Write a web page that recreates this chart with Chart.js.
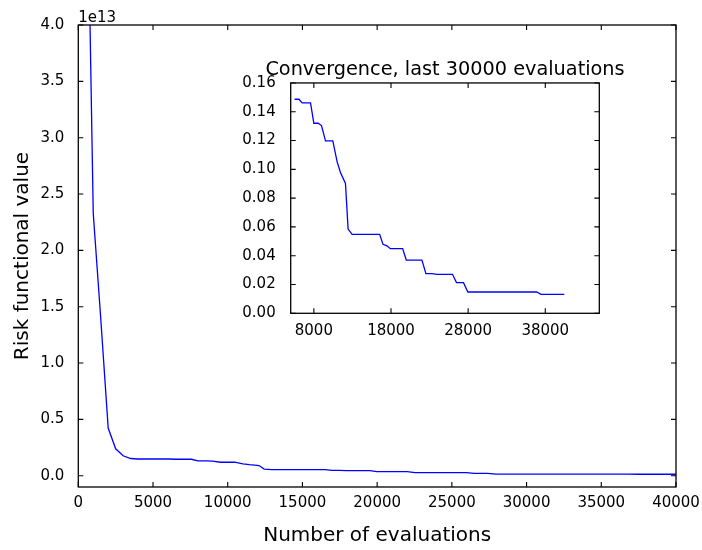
<!DOCTYPE html>
<html>
<head>
<meta charset="utf-8">
<script src="https://cdn.jsdelivr.net/npm/chart.js@4/dist/chart.umd.min.js"></script>
<style>
  html, body { margin: 0; padding: 0; background: #ffffff; }
  #wrap { position: relative; width: 702px; height: 550px; overflow: hidden; }
  #main { position: absolute; left: 0; top: 0; }
  #inset { position: absolute; left: 230px; top: 50px; }
</style>
</head>
<body>
<div id="wrap">
  <canvas id="main" width="702" height="550"></canvas>
  <canvas id="inset" width="430" height="300"></canvas>
</div>
<script>
// ---- data (risk values in units of 1e13) ----
const evaluations = [500, 1000, 1500, 2000, 2500, 3000, 3500, 4000,
  5500, 6060, 6490, 7570, 8000, 8560, 8990, 9510, 10460, 11020, 11450, 12100,
  12440, 12960, 16530, 16970, 17480, 17910, 19510, 19980, 22010, 22530, 23300,
  23950, 25970, 26490, 27400, 27960, 36880, 37440, 40460];
const riskValues = [6.2, 2.33, 1.40, 0.423, 0.239, 0.177, 0.153, 0.1487,
  0.1487, 0.1487, 0.1461, 0.1461, 0.1320, 0.1320, 0.1304, 0.1198, 0.1198, 0.1052, 0.0978, 0.0902,
  0.0585, 0.0548, 0.0548, 0.0479, 0.0469, 0.0449, 0.0449, 0.0370, 0.0370, 0.0275, 0.0275,
  0.0271, 0.0271, 0.0213, 0.0213, 0.0148, 0.0148, 0.0132, 0.0132];
const insetStart = 5500;

const mainXTicks = [0, 5000, 10000, 15000, 20000, 25000, 30000, 35000, 40000];
const mainYTicks = [0.0, 0.5, 1.0, 1.5, 2.0, 2.5, 3.0, 3.5, 4.0];
const insetXTicks = [8000, 18000, 28000, 38000];
const insetYTicks = [0.00, 0.02, 0.04, 0.06, 0.08, 0.10, 0.12, 0.14, 0.16];

const mainTitleX = 'Number of evaluations';
const mainTitleY = 'Risk functional value';
const insetTitle = 'Convergence, last 30000 evaluations';
const offsetText = '1e13';

// ---- helpers ----
const FONT = "'DejaVu Sans', 'Liberation Sans', sans-serif";
Chart.defaults.font.family = FONT;
Chart.defaults.color = '#000000';

const mainPoints = evaluations.map((x, i) => ({x: x, y: riskValues[i]}));
const insetPoints = mainPoints.filter(p => p.x >= insetStart);

function setTicks(arr) {
  return function(scale) { scale.ticks = arr.map(v => ({value: v})); };
}

const frameTicks = {
  id: 'frameTicks',
  beforeDraw(chart, args, opts) {
    if (opts.fill) {
      const a = chart.chartArea, ctx = chart.ctx;
      ctx.save();
      ctx.fillStyle = '#ffffff';
      ctx.fillRect(a.left, a.top, a.right - a.left, a.bottom - a.top);
      ctx.restore();
    }
  },
  afterDraw(chart, args, opts) {
    const {ctx, chartArea: {left, right, top, bottom}, scales} = chart;
    const L = opts.len || 5;
    ctx.save();
    ctx.strokeStyle = '#000000';
    ctx.lineWidth = 1.1;
    ctx.beginPath();
    scales.x.ticks.forEach(t => {
      const px = scales.x.getPixelForValue(t.value);
      ctx.moveTo(px, bottom); ctx.lineTo(px, bottom - L);
      ctx.moveTo(px, top); ctx.lineTo(px, top + L);
    });
    scales.y.ticks.forEach(t => {
      const py = scales.y.getPixelForValue(t.value);
      ctx.moveTo(left, py); ctx.lineTo(left + L, py);
      ctx.moveTo(right, py); ctx.lineTo(right - L, py);
    });
    ctx.stroke();
    ctx.lineWidth = 1.3;
    ctx.strokeRect(left, top, right - left, bottom - top);
    if (opts.offsetText) {
      ctx.fillStyle = '#000000';
      ctx.font = '15px ' + FONT;
      ctx.textAlign = 'left';
      ctx.textBaseline = 'alphabetic';
      ctx.fillText(opts.offsetText, left, top - 3);
    }
    ctx.restore();
  }
};

// ---- main chart ----
new Chart(document.getElementById('main'), {
  type: 'line',
  data: { datasets: [{
    data: mainPoints,
    borderColor: '#0000ff',
    borderWidth: 1.3,
    pointRadius: 0,
    tension: 0,
    fill: false
  }]},
  plugins: [frameTicks],
  options: {
    responsive: false,
    animation: false,
    devicePixelRatio: 1,
    layout: { padding: { top: 25, right: 26, left: 0, bottom: 0 } },
    plugins: {
      legend: { display: false },
      tooltip: { enabled: false },
      frameTicks: { len: 5, offsetText: offsetText }
    },
    scales: {
      x: {
        type: 'linear', min: 0, max: 40000,
        afterBuildTicks: setTicks(mainXTicks),
        afterFit(s) { s.height = 63; s.paddingLeft = 0; s.paddingRight = 0; },
        grid: { display: false },
        border: { display: false },
        ticks: { font: { size: 15 }, padding: -1, maxRotation: 0, autoSkip: false,
                 callback: v => String(v) },
        title: { display: true, text: mainTitleX, font: { size: 20 }, padding: { top: 0, bottom: 2 } }
      },
      y: {
        type: 'linear', min: -0.1, max: 4.0,
        afterBuildTicks: setTicks(mainYTicks),
        afterFit(s) { s.width = 78.3; s.paddingTop = 0; s.paddingBottom = 0; },
        grid: { display: false },
        border: { display: false },
        ticks: { font: { size: 15 }, padding: 6, autoSkip: false,
                 callback: v => Number(v).toFixed(1) },
        title: { display: true, text: mainTitleY, font: { size: 20 }, padding: { top: 11, bottom: 0 } }
      }
    }
  }
});

// ---- inset chart ----
new Chart(document.getElementById('inset'), {
  type: 'line',
  data: { datasets: [{
    data: insetPoints,
    borderColor: '#0000ff',
    borderWidth: 1.3,
    pointRadius: 0,
    tension: 0,
    fill: false
  }]},
  plugins: [frameTicks],
  options: {
    responsive: false,
    animation: false,
    devicePixelRatio: 1,
    layout: { padding: { top: 0, right: 0, left: 0, bottom: 0 } },
    plugins: {
      legend: { display: false },
      tooltip: { enabled: false },
      title: { display: true, text: insetTitle, font: { size: 19.3, weight: 'normal' },
               color: '#000000', padding: { top: 8.6, bottom: 1.2 } },
      frameTicks: { len: 5, fill: true }
    },
    scales: {
      x: {
        type: 'linear', min: 5000, max: 45000,
        afterBuildTicks: setTicks(insetXTicks),
        afterFit(s) { s.height = 36.7; s.paddingLeft = 0; s.paddingRight = 0; },
        grid: { display: false },
        border: { display: false },
        ticks: { font: { size: 15 }, padding: 1, maxRotation: 0, autoSkip: false,
                 callback: v => String(v) }
      },
      y: {
        type: 'linear', min: 0, max: 0.16,
        afterBuildTicks: setTicks(insetYTicks),
        afterFit(s) { s.width = 60.7; s.paddingTop = 0; s.paddingBottom = 0; },
        grid: { display: false },
        border: { display: false },
        ticks: { font: { size: 15 }, padding: 7, autoSkip: false,
                 callback: v => Number(v).toFixed(2) }
      },
      y2: {
        type: 'linear', position: 'right', display: true,
        afterFit(s) { s.width = 60.7; s.paddingTop = 0; s.paddingBottom = 0; },
        grid: { display: false },
        border: { display: false },
        ticks: { display: false }
      }
    }
  }
});
</script>
</body>
</html>
